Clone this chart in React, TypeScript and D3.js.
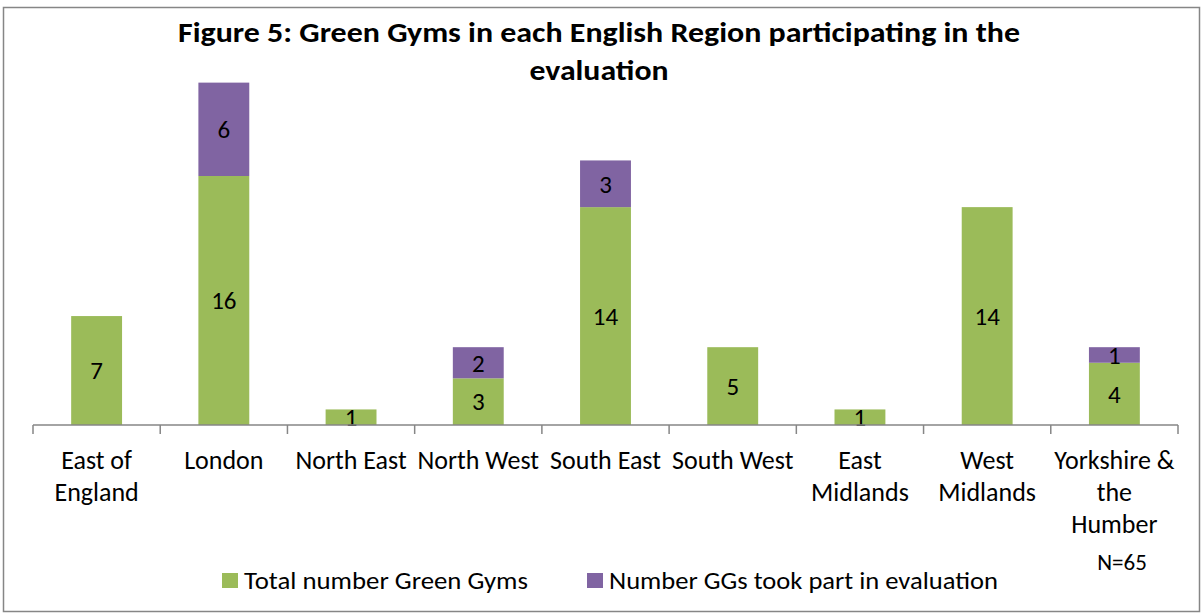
import React from "react";
import * as d3 from "d3";

const categories = [
  "East of England",
  "London",
  "North East",
  "North West",
  "South East",
  "South West",
  "East Midlands",
  "West Midlands",
  "Yorkshire & the Humber",
];
const categoryLines = [
  ["East of", "England"],
  ["London"],
  ["North East"],
  ["North West"],
  ["South East"],
  ["South West"],
  ["East", "Midlands"],
  ["West", "Midlands"],
  ["Yorkshire &", "the", "Humber"],
];
const totalGyms = [7, 16, 1, 3, 14, 5, 1, 14, 4];
const tookPart = [0, 6, 0, 2, 3, 0, 0, 0, 1];
const seriesNames = ["Total number Green Gyms", "Number GGs took part in evaluation"];
const titleLines = [
  "Figure 5: Green Gyms in each English Region participating in the",
  "evaluation",
];
const note = "N=65";

const GREEN = "#9BBB59";
const PURPLE = "#8064A2";
const AXIS = "#868686";
const FONT = "Carlito, Calibri, 'Open Sans', 'Noto Sans', sans-serif";

export default function App() {
  const W = 1203;
  const H = 614;
  const x = d3
    .scaleBand<string>()
    .domain(categories)
    .range([33, 1178])
    .paddingInner(0.6)
    .paddingOuter(0.3);
  const y = d3.scaleLinear().domain([0, 16]).range([425, 176]);
  const step = x.step();
  const tickXs = d3.range(categories.length + 1).map((i) => 33 + i * step);

  return (
    <svg
      width={W}
      height={H}
      style={{ position: "absolute", left: 0, top: 0, display: "block", background: "#fff" }}
      fontFamily={FONT}
    >
      <rect x={3.5} y={7.5} width={1196} height={604} fill="#fff" stroke={AXIS} strokeWidth={1.5} />
      {titleLines.map((t, i) => (
        <text
          key={i}
          x={599}
          y={42 + i * 38}
          textAnchor="middle"
          fontWeight="bold"
          fontSize={29}
          fill="#000"
          textLength={i === 0 ? 842 : 139}
          lengthAdjust="spacingAndGlyphs"
        >
          {t}
        </text>
      ))}
      {categories.map((c, i) => {
        const bx = x(c)!;
        const bw = x.bandwidth();
        const g0 = y(0);
        const g1 = y(totalGyms[i]);
        const p1 = y(totalGyms[i] + tookPart[i]);
        return (
          <g key={c}>
            <rect x={bx} y={g1} width={bw} height={g0 - g1} fill={GREEN} />
            {tookPart[i] > 0 && (
              <rect x={bx} y={p1} width={bw} height={g1 - p1} fill={PURPLE} />
            )}
            <text
              x={bx + bw / 2}
              y={(g0 + g1) / 2}
              dy="0.35em"
              textAnchor="middle"
              fontSize={25}
              fill="#000"
            >
              {totalGyms[i]}
            </text>
            {tookPart[i] > 0 && (
              <text
                x={bx + bw / 2}
                y={(g1 + p1) / 2}
                dy="0.35em"
                textAnchor="middle"
                fontSize={25}
                fill="#000"
              >
                {tookPart[i]}
              </text>
            )}
          </g>
        );
      })}
      <line x1={33} x2={1178} y1={425} y2={425} stroke={AXIS} strokeWidth={1.5} />
      {tickXs.map((tx, i) => (
        <line key={i} x1={tx} x2={tx} y1={425} y2={434} stroke={AXIS} strokeWidth={1.5} />
      ))}
      {categories.map((c, i) => (
        <text key={c} textAnchor="middle" fontSize={26} fill="#000">
          {categoryLines[i].map((ln, j) => (
            <tspan key={j} x={x(c)! + x.bandwidth() / 2} y={469 + j * 32}>
              {ln}
            </tspan>
          ))}
        </text>
      ))}
      <text x={1122} y={570} textAnchor="middle" fontSize={23} fill="#000">
        {note}
      </text>
      <rect x={222} y={573} width={16} height={15} fill={GREEN} />
      <text x={244} y={589} fontSize={25} fill="#000" textLength={284} lengthAdjust="spacingAndGlyphs">
        {seriesNames[0]}
      </text>
      <rect x={587} y={573} width={16} height={15} fill={PURPLE} />
      <text x={609} y={589} fontSize={25} fill="#000" textLength={389} lengthAdjust="spacingAndGlyphs">
        {seriesNames[1]}
      </text>
    </svg>
  );
}
